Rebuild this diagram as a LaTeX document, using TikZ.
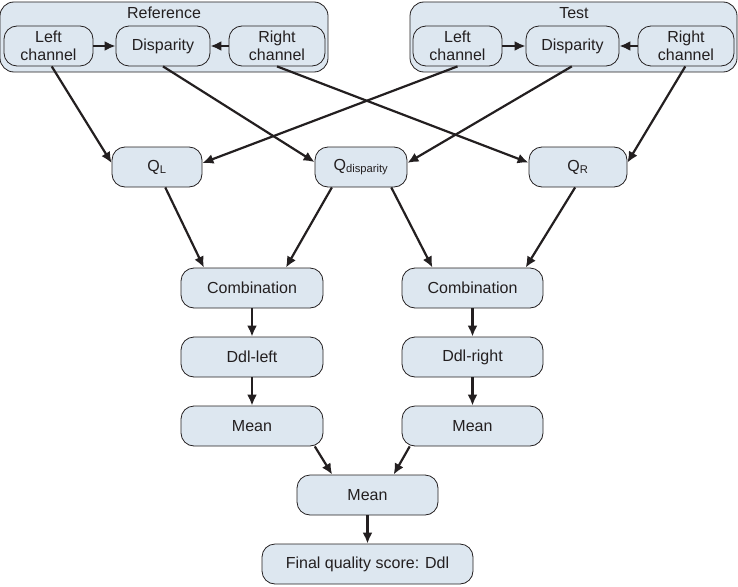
\documentclass[tikz,border=0pt]{standalone}
\usepackage{fontspec}
\setmainfont{Liberation Sans}
\usetikzlibrary{arrows.meta}
\definecolor{boxfill}{RGB}{221,231,240}
\definecolor{inkc}{RGB}{35,31,32}

\begin{document}
\begin{tikzpicture}[x=1pt, y=-1pt, >={Latex[length=11pt,width=10pt]},
    every node/.style={font=\fontsize{16}{18}\selectfont, text=inkc},
    box/.style={draw=inkc, line width=0.8pt, fill=boxfill, rounded corners=13pt,
      minimum height=40pt, inner sep=0pt, align=center},
    grp/.style={draw=inkc, line width=0.8pt, fill=boxfill, rounded corners=14pt,
      minimum height=70pt, inner sep=0pt},
    link/.style={->, line width=2.2pt, draw=inkc}]
    \useasboundingbox (0,0) rectangle (738,586);

    % Khung Reference va Test
    \node[grp, minimum width=328pt] (refgrp) at (164,37) {};
    \node (reflbl) at (164,13) {Reference};
    \node[grp, minimum width=327pt] (testgrp) at (573.5,37) {};
    \node (testlbl) at (574,13) {Test};

    % Kenh dau vao
    \node[box, minimum width=89pt] (refL) at (48.5,46) {Left\\channel};
    \node[box, minimum width=94pt] (refD) at (163,46) {Disparity};
    \node[box, minimum width=96pt] (refR) at (277,46) {Right\\channel};
    \node[box, minimum width=89pt] (testL) at (457.5,46) {Left\\channel};
    \node[box, minimum width=93pt] (testD) at (572.5,46) {Disparity};
    \node[box, minimum width=96pt] (testR) at (686,46) {Right\\channel};

    % Chat luong
    \node[box, minimum width=90pt] (QL) at (157,167) {Q\textsubscript{L}};
    \node[box, minimum width=92pt] (Qd) at (361,167) {Q\textsubscript{disparity}};
    \node[box, minimum width=98pt] (QR) at (578,167) {Q\textsubscript{R}};

    % Hai nhanh trai / phai
    \node[box, minimum width=142pt] (combL) at (252,288) {Combination};
    \node[box, minimum width=141pt] (combR) at (472.5,288) {Combination};
    \node[box, minimum width=142pt] (ddlL) at (252,357) {Ddl-left};
    \node[box, minimum width=141pt] (ddlR) at (472.5,357) {Ddl-right};
    \node[box, minimum width=142pt] (meanL) at (252,426) {Mean};
    \node[box, minimum width=141pt] (meanR) at (472.5,426) {Mean};
    \node[box, minimum width=141pt] (meanB) at (367.5,495) {Mean};
    \node[box, minimum width=211pt] (final) at (367.5,564) {Final quality score: Ddl};

    % Mui ten trong khung
    \draw[link] (refL) -- (refD);
    \draw[link] (refR) -- (refD);
    \draw[link] (testL) -- (testD);
    \draw[link] (testR) -- (testD);

    % Mui ten cheo
    \draw[link] (refL.-81) -- (QL.175);
    \draw[link] (refD.south) -- (Qd.174);
    \draw[link] (refR.south) -- (QR.175);
    \draw[link] (testL.south) -- (QL.5);
    \draw[link] (testD.-92) -- (Qd.5);
    \draw[link] (testR.-92) -- (QR.5);

    \draw[link] (QL.-68) -- (combL.157);
    \draw[link] (Qd.-145) -- (combL.31);
    \draw[link] (Qd.-34) -- (combR.153);
    \draw[link] (QR.-98) -- (combR.21);

    % Mui ten thang
    \draw[link] (combL) -- (ddlL);
    \draw[link] (ddlL) -- (meanL);
    \draw[link] (combR) -- (ddlR);
    \draw[link] (ddlR) -- (meanR);
    \draw[link] (meanL.-18) -- (meanB.150);
    \draw[link] (meanR.-162) -- (meanB.38);
    \draw[link] (meanB) -- (final);
\end{tikzpicture}
\end{document}
